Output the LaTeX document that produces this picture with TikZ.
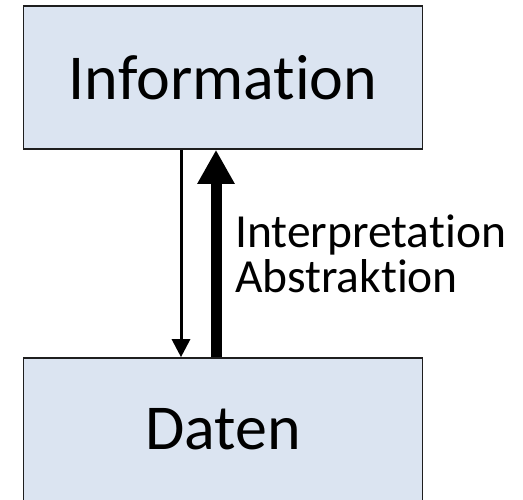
\documentclass[tikz,border=0pt]{standalone}
\usepackage{fontspec}
\setmainfont{Carlito}[Ligatures=NoCommon]
\usetikzlibrary{arrows.meta, positioning}
\definecolor{boxblue}{RGB}{219,228,241}
\definecolor{boxline}{RGB}{30,30,30}

\begin{document}
\begin{tikzpicture}[
    x=1pt, y=-1pt,
    level/.style={rectangle, minimum width=399pt, minimum height=143pt,
                  draw=boxline, line width=1.6pt, fill=boxblue,
                  font=\fontsize{64}{64}\selectfont, inner sep=0pt},
    label/.style={anchor=base west, inner sep=0pt, font=\fontsize{47.5}{47.5}\selectfont},
    thin arrow/.style={-{Triangle[length=18pt, width=18pt]}, line width=3pt},
    thick arrow/.style={-{Triangle[length=34pt, width=35pt]}, line width=11pt}
]
\useasboundingbox (0,0) rectangle (523,500);

\node[level] (info) at (223,77.5) {Information};
\node[level] (daten) at (223,429.5) {Daten};

\draw[thin arrow] ([xshift=-42pt]info.south) -- ([xshift=-42pt]daten.north);
\draw[thick arrow] ([xshift=-7pt]daten.north) -- ([xshift=-7pt]info.south);

\node[label] (interp) at (235,248) {Interpretation};
\node[label] (abstr) at (235,293) {Abstraktion};

\end{tikzpicture}
\end{document}
